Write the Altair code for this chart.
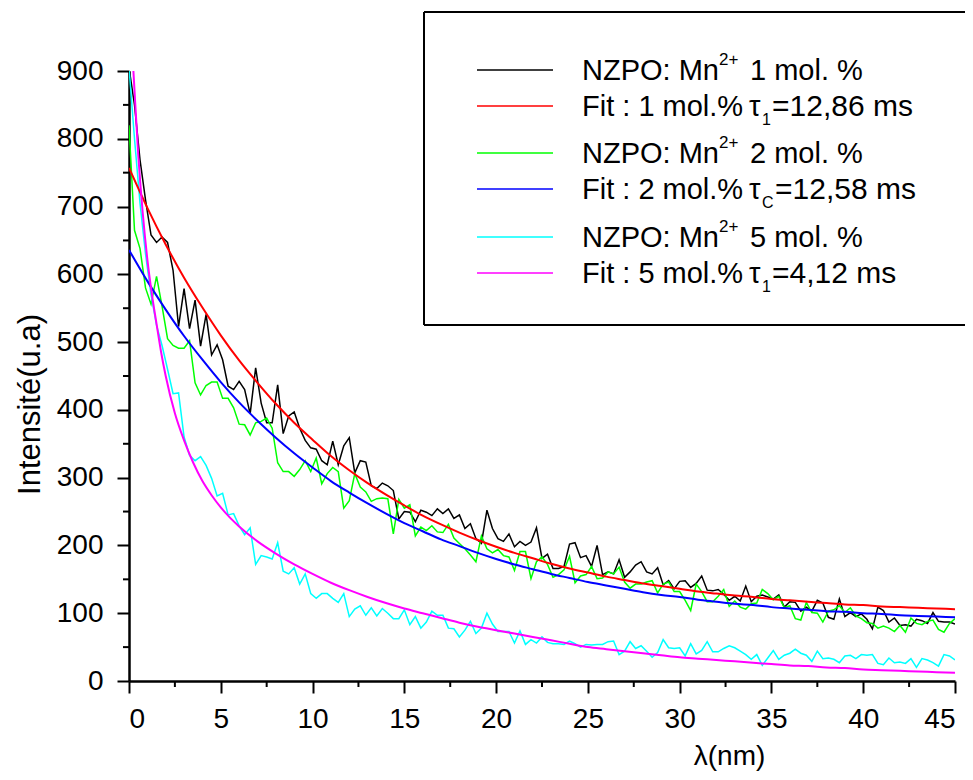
import altair as alt
import pandas as pd

FONT = "Liberation Sans"

# sampling grid of the measured decays (step 0.3)
x_pts = [round(0.3 * i, 1) for i in range(151)]

black_1 = [905, 850, 769, 710, 658, 647, 655, 647, 606, 523,
           579, 520, 562, 494, 541, 481, 496, 474, 435, 430,
           442, 430, 394, 462, 410, 381, 381, 437, 365, 391,
           397, 373, 355, 344, 342, 325, 319, 354, 319, 347,
           359, 307, 325, 323, 288, 284, 292, 288, 281, 239,
           250, 249, 235, 252, 249, 244, 254, 247, 254, 240,
           245, 225, 232, 210, 203, 252, 225, 210, 206, 217,
           198, 206, 200, 205, 226, 181, 187, 166, 166, 169,
           202, 204, 182, 185, 169, 200, 157, 161, 158, 179,
           153, 161, 171, 176, 161, 158, 167, 142, 148, 136,
           147, 148, 138, 144, 155, 134, 133, 135, 128, 119,
           125, 118, 140, 117, 125, 127, 124, 121, 127, 109,
           117, 116, 103, 109, 103, 119, 115, 94, 91, 121,
           95, 101, 95, 99, 91, 77, 109, 104, 87, 93,
           82, 83, 81, 91, 89, 85, 101, 88, 87, 87,
           84]

green_2 = [820, 665, 638, 580, 556, 597, 553, 505, 495, 491,
           491, 502, 440, 422, 436, 441, 441, 417, 417, 403,
           379, 378, 363, 381, 383, 388, 373, 322, 309, 309,
           302, 312, 325, 309, 329, 291, 306, 315, 309, 255,
           266, 306, 286, 279, 265, 269, 270, 269, 217, 268,
           255, 260, 214, 227, 222, 229, 220, 219, 231, 211,
           203, 195, 186, 176, 214, 195, 189, 194, 185, 183,
           163, 191, 191, 151, 176, 183, 172, 153, 157, 164,
           184, 145, 155, 157, 169, 151, 152, 161, 158, 168,
           146, 137, 143, 143, 146, 148, 130, 143, 146, 132,
           132, 119, 104, 143, 132, 117, 117, 125, 135, 110,
           118, 109, 106, 114, 115, 135, 129, 120, 125, 108,
           111, 92, 90, 116, 101, 100, 87, 103, 105, 111,
           101, 108, 96, 92, 86, 85, 78, 81, 78, 73,
           82, 72, 93, 85, 83, 88, 90, 76, 72, 85,
           92]

cyan_5 = [905, 800, 705, 630, 570, 525, 495, 460, 424, 425,
          360, 333, 325, 331, 318, 299, 273, 277, 245, 247,
          229, 216, 226, 172, 185, 183, 180, 204, 162, 158,
          167, 143, 158, 129, 122, 129, 129, 122, 116, 129,
          95, 106, 111, 97, 108, 96, 107, 100, 92, 92,
          105, 83, 95, 78, 87, 103, 97, 97, 78, 77,
          65, 75, 88, 70, 78, 100, 84, 73, 73, 73,
          56, 74, 54, 61, 56, 65, 57, 55, 55, 54,
          59, 55, 50, 54, 53, 54, 54, 58, 59, 39,
          44, 58, 48, 52, 44, 35, 42, 61, 49, 48,
          49, 37, 55, 40, 45, 58, 43, 43, 48, 52,
          49, 44, 39, 32, 39, 23, 34, 45, 32, 38,
          41, 47, 41, 38, 29, 44, 33, 34, 32, 27,
          37, 38, 33, 39, 38, 39, 26, 24, 34, 27,
          28, 26, 33, 20, 33, 31, 27, 22, 39, 37,
          31]

fit_x = list(range(46))
red_fit = [757, 698, 644, 595, 551, 510, 473, 440, 409, 381, 356, 332, 311, 292, 275,
           259, 244, 231, 219, 208, 198, 189, 181, 173, 166, 160, 154, 149, 144, 140,
           136, 132, 129, 126, 124, 121, 119, 117, 115, 113, 112, 110, 109, 108, 107, 106]
blue_fit = [636, 590, 548, 509, 474, 441, 411, 384, 359, 336, 315, 295, 278, 262, 247,
            233, 221, 209, 199, 189, 180, 172, 165, 158, 152, 146, 141, 136, 131, 127,
            124, 120, 117, 114, 112, 109, 107, 105, 103, 102, 100, 99, 97, 96, 95, 94]
magenta_x = [0, 0.25, 0.5, 0.75, 1, 1.25, 1.5, 1.75, 2, 2.5, 3, 3.5, 4, 4.5, 5, 5.5, 6] + list(range(7, 46))
magenta_fit = [1010, 895, 778, 690, 622, 570, 527, 485, 450, 395, 355, 322, 295, 274, 256, 241, 228,
               206, 188, 172, 158, 145, 134, 124, 115, 107, 100, 93, 86, 80, 75, 70, 65, 60, 55,
               50, 47, 44, 41, 38, 35, 33, 31, 29, 27, 25, 23, 22, 20, 19, 17, 16, 15, 14, 13, 12]

x_major = list(range(0, 50, 5))
x_minor = [2.5 + 5 * k for k in range(9)]
y_major = list(range(0, 1000, 100))
y_minor = [50 + 100 * k for k in range(9)]

series_names = ["NZPO 1", "Fit 1", "NZPO 2", "Fit 2", "NZPO 5", "Fit 5"]
series_colors = ["#000000", "#ff0000", "#00ff00", "#0000ff", "#00ffff", "#ff00ff"]

W, H = 826, 610

data_df = pd.concat([
    pd.DataFrame({"x": x_pts, "y": black_1, "s": "NZPO 1"}),
    pd.DataFrame({"x": x_pts, "y": green_2, "s": "NZPO 2"}),
    pd.DataFrame({"x": x_pts, "y": cyan_5, "s": "NZPO 5"}),
])
fit_df = pd.concat([
    pd.DataFrame({"x": fit_x, "y": red_fit, "s": "Fit 1"}),
    pd.DataFrame({"x": fit_x, "y": blue_fit, "s": "Fit 2"}),
    pd.DataFrame({"x": magenta_x, "y": magenta_fit, "s": "Fit 5"}),
])

xscale = alt.Scale(domain=[0, 45], nice=False, zero=False)
yscale = alt.Scale(domain=[0, 900], nice=False)
cscale = alt.Scale(domain=series_names, range=series_colors)

x_axis = alt.Axis(values=x_major, title="λ(nm)", labelFont=FONT, labelFontSize=28,
                  labelColor="black", labelPadding=12, tickSize=12, tickWidth=2,
                  tickColor="black", domainColor="black", domainWidth=2.5, grid=False,
                  titleFont=FONT, titleFontSize=28, titleFontWeight="normal",
                  titleColor="black", titleX=600, titleY=75, titleAlign="center",
                  titleBaseline="middle")
y_axis = alt.Axis(values=y_major, title="Intensité(u.a)", labelFont=FONT, labelFontSize=28,
                  labelColor="black", labelPadding=14, tickSize=12, tickWidth=2,
                  tickColor="black", domainColor="black", domainWidth=2.5, grid=False,
                  titleFont=FONT, titleFontSize=31, titleFontWeight="normal",
                  titleColor="black", titleX=-99, titleY=333, titleAngle=270,
                  titleAlign="center", titleBaseline="middle")

data_lines = alt.Chart(data_df).mark_line(strokeWidth=1.5, clip=True).encode(
    x=alt.X("x:Q", scale=xscale, axis=x_axis),
    y=alt.Y("y:Q", scale=yscale, axis=y_axis),
    color=alt.Color("s:N", scale=cscale, legend=None),
    detail="s:N",
)
fit_lines = alt.Chart(fit_df).mark_line(strokeWidth=2, clip=True, interpolate="monotone").encode(
    x=alt.X("x:Q", scale=xscale),
    y=alt.Y("y:Q", scale=yscale),
    color=alt.Color("s:N", scale=cscale, legend=None),
    detail="s:N",
)

xminor = alt.Chart(pd.DataFrame({"v": x_minor})).mark_rule(color="black", strokeWidth=2).encode(
    x=alt.X("v:Q", scale=xscale), y=alt.value(H), y2=alt.value(H + 6))
yminor = alt.Chart(pd.DataFrame({"v": y_minor})).mark_rule(color="black", strokeWidth=2).encode(
    y=alt.Y("v:Q", scale=yscale), x=alt.value(0), x2=alt.value(-6))

one = pd.DataFrame({"a": [0]})


def rule(x1, x2, y1, y2, color="black", width=2.0):
    return alt.Chart(one).mark_rule(color=color, strokeWidth=width).encode(
        x=alt.value(x1), x2=alt.value(x2), y=alt.value(y1), y2=alt.value(y2))


def txt(s, x, y, size):
    return alt.Chart(one).mark_text(text=s, align="left", baseline="alphabetic", font=FONT,
                                    fontSize=size, color="black").encode(
        x=alt.value(x), y=alt.value(y))


# legend box (top, left, bottom)
box_l, box_r, box_t, box_b = 295, W + 12, -59, 254
layers = [data_lines, fit_lines, xminor, yminor,
          rule(box_l, box_r, box_t, box_t), rule(box_l, box_l, box_t, box_b),
          rule(box_l, box_r, box_b, box_b)]

legend_conc = ["1 mol. %", "2 mol. %", "5 mol. %"]
legend_fit = [("Fit : 1 mol.%", "1", "=12,86 ms"),
              ("Fit : 2 mol.%", "C", "=12,58 ms"),
              ("Fit : 5 mol.%", "1", "=4,12 ms")]
centers = [-1, 35, 82, 118, 166, 202]
for k in range(3):
    cd = centers[2 * k]
    cf = centers[2 * k + 1]
    layers.append(rule(348, 424, cd, cd, series_colors[2 * k], 1.5))
    layers.append(rule(348, 424, cf, cf, series_colors[2 * k + 1], 1.5))
    bd = cd + 10
    layers += [txt("NZPO: Mn", 453, bd, 29), txt("2+", 590, bd - 15, 17),
               txt(legend_conc[k], 621, bd, 29)]
    bf = cf + 10
    main, sub, rest = legend_fit[k]
    layers += [txt(main, 453, bf, 29), txt("τ", 620, bf, 29), txt(sub, 633, bf + 9, 16),
               txt(rest, 643 if sub == "1" else 646, bf, 30)]

chart = alt.layer(*layers).properties(
    width=W, height=H,
    autosize=alt.AutoSizeParams(type="none"),
    padding={"left": 121, "top": 63, "right": 10, "bottom": 90},
).configure_view(stroke=None)

chart.save("out.html", embed_options={"renderer": "svg", "actions": False})
